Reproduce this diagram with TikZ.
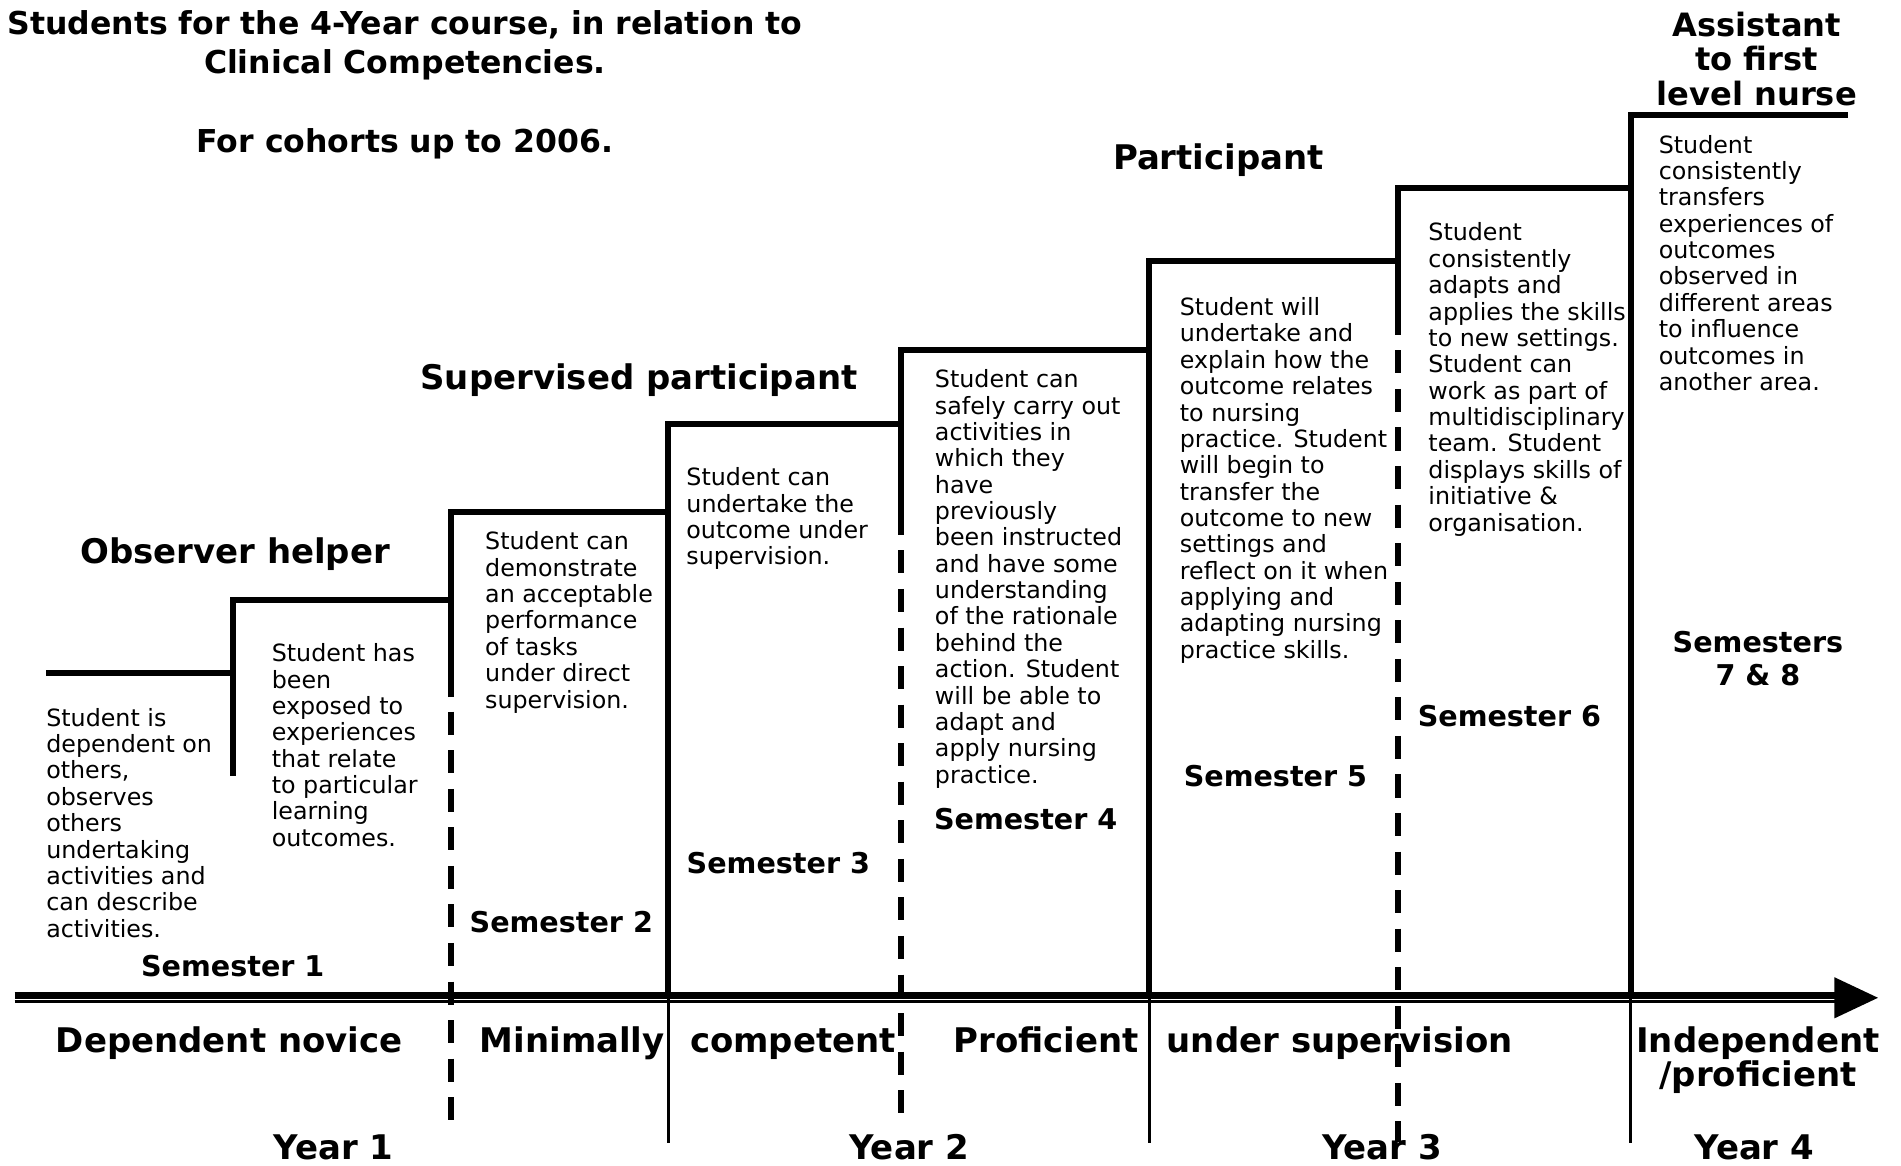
\documentclass[tikz,border=0pt]{standalone}
\usepackage{fontspec}
\setmainfont{DejaVu Sans}
\tikzset{
  desc/.style={anchor=base west, inner sep=0pt, align=left, font=\fontsize{19.6}{21.75}\selectfont},
  semlabel/.style={anchor=base, inner sep=0pt, align=center, font=\bfseries\fontsize{23.6}{27}\selectfont},
  heading/.style={anchor=base, inner sep=0pt, align=center, font=\bfseries\fontsize{28}{28.5}\selectfont},
  toplevel/.style={anchor=base, inner sep=0pt, align=center, font=\bfseries\fontsize{26.5}{28.5}\selectfont},
  levellabel/.style={anchor=base, inner sep=0pt, align=center, font=\bfseries\fontsize{28}{28}\selectfont},
  titletext/.style={anchor=base, inner sep=0pt, align=center, font=\bfseries\fontsize{26}{32.5}\selectfont},
  stair/.style={line width=5pt, line join=miter},
  dashstair/.style={line width=5pt, dash pattern=on 19pt off 12.8pt},
  thinpost/.style={line width=2.5pt},
}
\begin{document}
\begin{tikzpicture}[x=1pt,y=-1pt]
\useasboundingbox (0,0) rectangle (1568,961);
\fill[white] (0,0) rectangle (1568,961);

% title (base anchor = baseline of the last line)
\node[titletext] (title) at (334,126) {Students for the 4-Year course, in relation to\\Clinical Competencies.\\[32.5pt]For cohorts up to 2006.};

% staircase
\draw[stair] (38,555) -- (192,555);
\draw[stair] (192,640) -- (192,495) -- (372,495);
\draw[stair] (372,575) -- (372,422) -- (551,422);
\draw[stair] (551,821) -- (551,350) -- (743,350);
\draw[stair] (743,441) -- (743,289) -- (948,289);
\draw[stair] (948,821) -- (948,215) -- (1153,215);
\draw[stair] (1153,276) -- (1153,155) -- (1345,155);
\draw[stair] (1345,821) -- (1345,95) -- (1524,95);

% dashed semester dividers
\draw[dashstair] (372,587) -- (372,925);
\draw[dashstair] (743,454) -- (743,918);
\draw[dashstair] (1153,289) -- (1153,942);

% year dividers below the axis
\draw[thinpost] (551,821) -- (551,943);
\draw[thinpost] (948,821) -- (948,943);
\draw[thinpost] (1345,821) -- (1345,943);

% axis
\coordinate (axstart) at (12,821);
\coordinate (axend) at (1514,821);
\coordinate (axstartb) at (12,826);
\coordinate (axendb) at (1514,826);
\draw[line width=6pt] (axstart) -- (axend);
\draw[line width=2pt] (axstartb) -- (axendb);
\fill (1513,806) -- (1549,823) -- (1513,840) -- cycle;

% headings
\node[heading] (h1) at (194,465) {Observer helper};
\node[heading] (h2) at (527,321) {Supervised participant};
\node[heading] (h3) at (1005,140) {Participant};
\node[toplevel] (h4) at (1449,87) {Assistant\\to first\\level nurse};

% descriptions (base anchor = baseline of the last line)
\node[desc] (d1) at (38,773) {Student is\\dependent on\\others,\\observes\\others\\undertaking\\activities and\\can describe\\activities.};
\node[desc] (d2) at (224,698) {Student has\\been\\exposed to\\experiences\\that relate\\to particular\\learning\\outcomes.};
\node[desc] (d3) at (400,584) {Student can\\demonstrate\\an acceptable\\performance\\of tasks\\under direct\\supervision.};
\node[desc] (d4) at (566,466) {Student can\\undertake the\\outcome under\\supervision.};
\node[desc] (d5) at (771,646) {Student can\\safely carry out\\activities in\\which they\\have\\previously\\been instructed\\and have some\\understanding\\of the rationale\\behind the\\action. Student\\will be able to\\adapt and\\apply nursing\\practice.};
\node[desc] (d6) at (973,543) {Student will\\undertake and\\explain how the\\outcome relates\\to nursing\\practice. Student\\will begin to\\transfer the\\outcome to new\\settings and\\reflect on it when\\applying and\\adapting nursing\\practice skills.};
\node[desc] (d7) at (1178,438) {Student\\consistently\\adapts and\\applies the skills\\to new settings.\\Student can\\work as part of\\multidisciplinary\\team. Student\\displays skills of\\initiative \&\\organisation.};
\node[desc] (d8) at (1368,322) {Student\\consistently\\transfers\\experiences of\\outcomes\\observed in\\different areas\\to influence\\outcomes in\\another area.};

% semester labels
\node[semlabel] (s1) at (192,805.5) {Semester 1};
\node[semlabel] (s2) at (463,769.5) {Semester 2};
\node[semlabel] (s3) at (642,720.5) {Semester 3};
\node[semlabel] (s4) at (846,684.5) {Semester 4};
\node[semlabel] (s5) at (1052,648.5) {Semester 5};
\node[semlabel] (s6) at (1245,599.5) {Semester 6};
\node[semlabel] (s78) at (1450,565.5) {Semesters\\7 \& 8};

% competence levels
\node[levellabel] (l1) at (189,868) {Dependent novice};
\node[levellabel] (l2) at (472,868) {Minimally};
\node[levellabel] (l3) at (654,868) {competent};
\node[levellabel] (l4) at (863,868) {Proficient};
\node[levellabel] (l5) at (1105,868) {under supervision};
\node[levellabel] (l6) at (1450,896) {Independent\\/proficient};

% years
\node[levellabel] (y1) at (275,956) {Year 1};
\node[levellabel] (y2) at (750,956) {Year 2};
\node[levellabel] (y3) at (1140,956) {Year 3};
\node[levellabel] (y4) at (1447,956) {Year 4};
\end{tikzpicture}
\end{document}
